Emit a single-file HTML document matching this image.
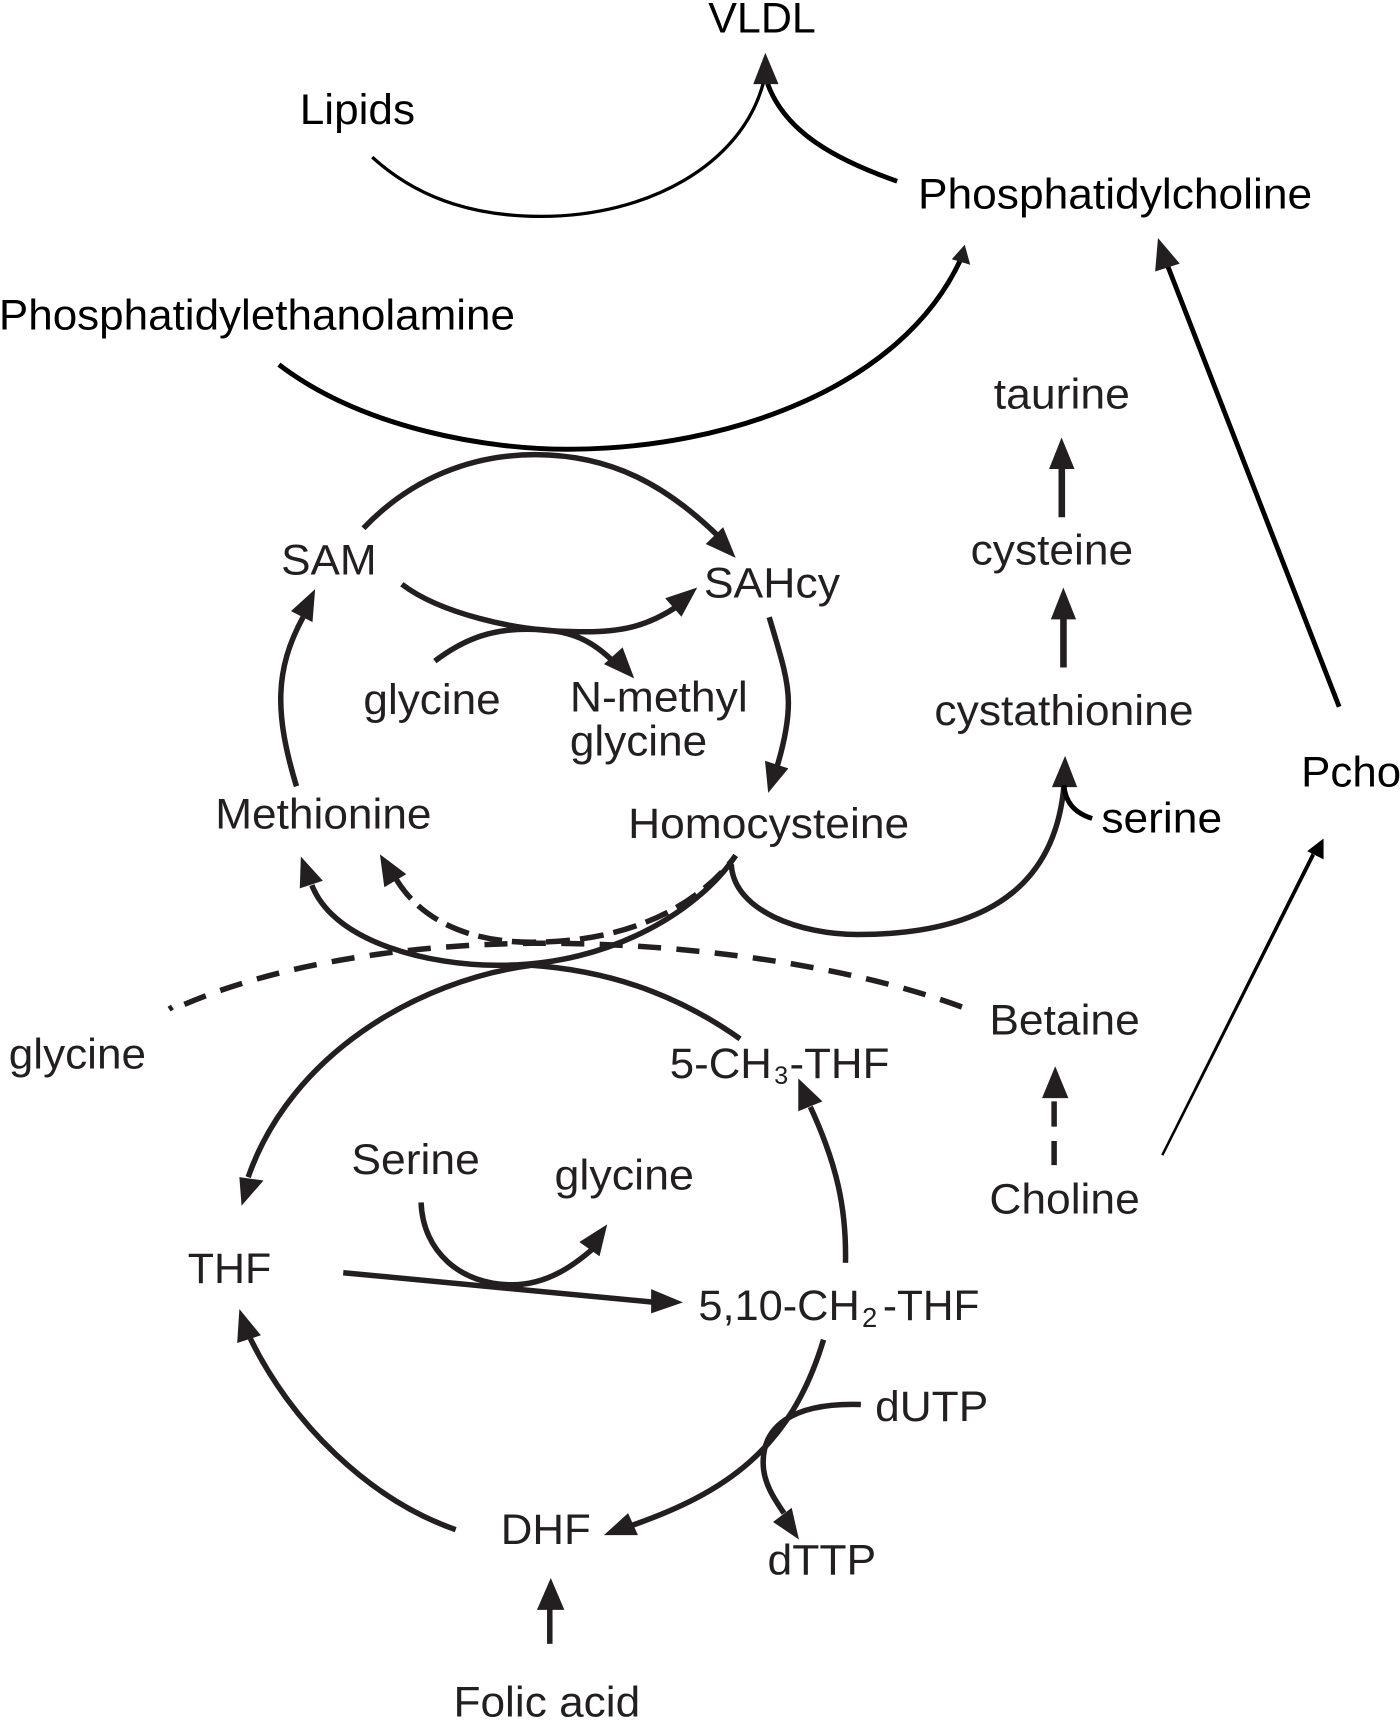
<!DOCTYPE html>
<html><head><meta charset="utf-8"><style>
html,body{margin:0;padding:0;background:#fff}
svg{display:block;position:absolute;left:0;top:0}
text{font-family:"Liberation Sans",sans-serif;font-size:39px;fill:#231f20}
.k{fill:#000}
path.a{fill:none;stroke:#231f20;stroke-width:5}
path.b{fill:none;stroke:#000}
polygon{fill:#231f20}
</style></head><body>
<svg width="1400" height="1723" viewBox="0 0 1275 1569" xmlns="http://www.w3.org/2000/svg">
<text class="k" x="645" y="29.5" textLength="98" lengthAdjust="spacingAndGlyphs">VLDL</text>
<text class="k" x="273" y="113" textLength="105" lengthAdjust="spacingAndGlyphs">Lipids</text>
<text class="k" x="836" y="190" textLength="359" lengthAdjust="spacingAndGlyphs">Phosphatidylcholine</text>
<text class="k" x="-1" y="300" textLength="470" lengthAdjust="spacingAndGlyphs">Phosphatidylethanolamine</text>
<text x="905" y="372" textLength="124" lengthAdjust="spacingAndGlyphs">taurine</text>
<text x="884" y="514" textLength="148" lengthAdjust="spacingAndGlyphs">cysteine</text>
<text x="851" y="660" textLength="236" lengthAdjust="spacingAndGlyphs">cystathionine</text>
<text x="256" y="523" textLength="87" lengthAdjust="spacingAndGlyphs">SAM</text>
<text x="641" y="544" textLength="124" lengthAdjust="spacingAndGlyphs">SAHcy</text>
<text x="331" y="650" textLength="125" lengthAdjust="spacingAndGlyphs">glycine</text>
<text x="519" y="648" textLength="162" lengthAdjust="spacingAndGlyphs">N-methyl</text>
<text x="519" y="688" textLength="125" lengthAdjust="spacingAndGlyphs">glycine</text>
<text x="196" y="754.5" textLength="197" lengthAdjust="spacingAndGlyphs">Methionine</text>
<text x="572" y="763" textLength="256" lengthAdjust="spacingAndGlyphs">Homocysteine</text>
<text class="k" x="1003" y="758" textLength="110" lengthAdjust="spacingAndGlyphs">serine</text>
<text class="k" x="1185" y="716" textLength="91" lengthAdjust="spacingAndGlyphs">Pcho</text>
<text x="901" y="942" textLength="137" lengthAdjust="spacingAndGlyphs">Betaine</text>
<text x="8" y="973" textLength="125" lengthAdjust="spacingAndGlyphs">glycine</text>
<text x="610" y="981.5" textLength="93" lengthAdjust="spacingAndGlyphs">5-CH</text>
<text x="705" y="987" style="font-size:23px">3</text>
<text x="719" y="981.5" textLength="91" lengthAdjust="spacingAndGlyphs">-THF</text>
<text x="320" y="1069" textLength="117" lengthAdjust="spacingAndGlyphs">Serine</text>
<text x="505" y="1083" textLength="127" lengthAdjust="spacingAndGlyphs">glycine</text>
<text x="901" y="1105" textLength="137" lengthAdjust="spacingAndGlyphs">Choline</text>
<text x="171" y="1168.5" textLength="76" lengthAdjust="spacingAndGlyphs">THF</text>
<text x="636" y="1202" textLength="147" lengthAdjust="spacingAndGlyphs">5,10-CH</text>
<text x="785" y="1208.5" style="font-size:25px">2</text>
<text x="804" y="1202" textLength="88" lengthAdjust="spacingAndGlyphs">-THF</text>
<text x="797" y="1294" textLength="103" lengthAdjust="spacingAndGlyphs">dUTP</text>
<text x="456" y="1406" textLength="82" lengthAdjust="spacingAndGlyphs">DHF</text>
<text x="699" y="1434" textLength="99" lengthAdjust="spacingAndGlyphs">dTTP</text>
<text x="413" y="1563" textLength="170" lengthAdjust="spacingAndGlyphs">Folic acid</text>

<!-- black top curves -->
<path class="b" stroke-width="3" d="M339 143C385 185 440 197 493 197C590 197 675 150 695 76"/>
<path class="b" stroke-width="4.4" d="M817 165C760 145 715 120 699 76"/>
<polygon points="697,48 686,76.5 709,76.5"/>
<path class="b" stroke-width="4.5" d="M254 332C330 390 445 410 522 409C660 408 820 355 875 236"/>
<polygon points="878.6,222.8 866.8,236 883.6,241"/>
<path class="b" stroke-width="4.4" d="M1219.6 643.6L1063 241"/>
<polygon points="1054.6,216.7 1052,247.2 1074.4,240"/>
<polygon style="fill:#000" points="1057.5,1051.5 1059.5,1052.5 1197.5,779 1194.5,777"/>
<polygon style="fill:#000" points="1205.4,763.6 1190.5,775 1205.4,782.6"/>

<!-- SAM cycle -->
<path class="a" d="M331 481C375 435 430 414 487 414C560 414 610 445 655 489"/>
<polygon points="670,508 642.7,495.4 658.6,480"/>
<path class="a" d="M366 532C400 558 470 575 520 575C565 577 590 570 617 552"/>
<polygon points="635,535 605.8,544.8 620.6,561.6"/>
<path class="a" d="M396 602C425 580 450 573 480 573C515 573 535 580 556 600"/>
<polygon points="577.6,617.7 550,604.8 567,589.5"/>
<path class="a" d="M700.5 562C712 600 718 620 718 640C718 660 713 680 708 697"/>
<polygon points="699.6,722 696.7,692.8 718,699.7"/>
<path class="a" d="M270 716C250 650 250 610 276 562"/>
<polygon points="287,536.5 265,556.5 284.6,566.5"/>

<!-- right column -->
<path stroke="#231f20" stroke-width="6" fill="none" d="M967 471V425"/><polygon points="966.8,398.4 955.4,427 978.6,427"/>
<path stroke="#231f20" stroke-width="6" fill="none" d="M968.5 607.8V562"/><polygon points="968.4,535 957,564 980,564"/>
<path class="a" d="M666 787C668 830 730 851 781 851C880 851 960 820 969 715"/>
<polygon points="970,688.3 958,716.8 981,716.8"/>
<path class="b" stroke-width="4.5" d="M994.6 745.3C978 740 970 730 969 715"/>

<!-- crossing arcs -->
<path class="a" d="M670 779C640 825 560 880 452 879C395 879 305 860 284 806"/>
<polygon points="274,780 273,809 294,802"/>
<path class="a" d="M361 801C385 840 430 858 484 858C580 858 640 820 670 779" stroke-dasharray="22 9"/>
<polygon points="346,778 350,808 370,796"/>
<path class="a" d="M876 917C770 878 620 858 484 859C380 860 260 875 167 915" stroke-dasharray="21 14"/>
<path class="a" d="M157 917L154 919"/>
<path class="a" d="M674 946C630 915 570 885 484 879"/>
<path class="a" d="M484 879C380 893 265 960 226 1072"/>
<polygon points="220,1098 218,1072 240,1075"/>
<path class="a" d="M770 1150C771 1100 762 1060 738 1008"/>
<polygon points="727,982 727,1012 749,1003"/>

<!-- Betaine dashed -->
<path class="a" d="M960 1061V1039M960 1026V1003"/>
<polygon points="961,971 949,1000 973,1000"/>

<!-- THF -->
<path class="a" stroke-width="5.5" d="M312.6 1159L597 1186"/>
<polygon points="622,1186 593,1174 593,1196"/>
<path class="a" d="M383.5 1095C385 1140 420 1170 466 1170C500 1170 525 1150 539 1138"/>
<polygon points="553,1115 527.6,1131 546,1144"/>

<!-- lower cycle -->
<path class="a" d="M750 1220C720 1320 660 1360 573 1390"/>
<polygon points="550,1398 572,1378 581,1398"/>
<path class="a" d="M415 1393C335 1365 265 1295 228 1219"/>
<polygon points="218,1192 216,1223 237.6,1216"/>
<path class="a" d="M784 1279C720 1277 695 1300 695 1332C695 1350 705 1365 714 1378"/>
<polygon points="727.6,1402 704,1386 721,1373"/>
<path class="a" d="M500.7 1497V1464"/>
<polygon points="501.6,1437 489,1466 514,1466"/>
</svg>
</body></html>
